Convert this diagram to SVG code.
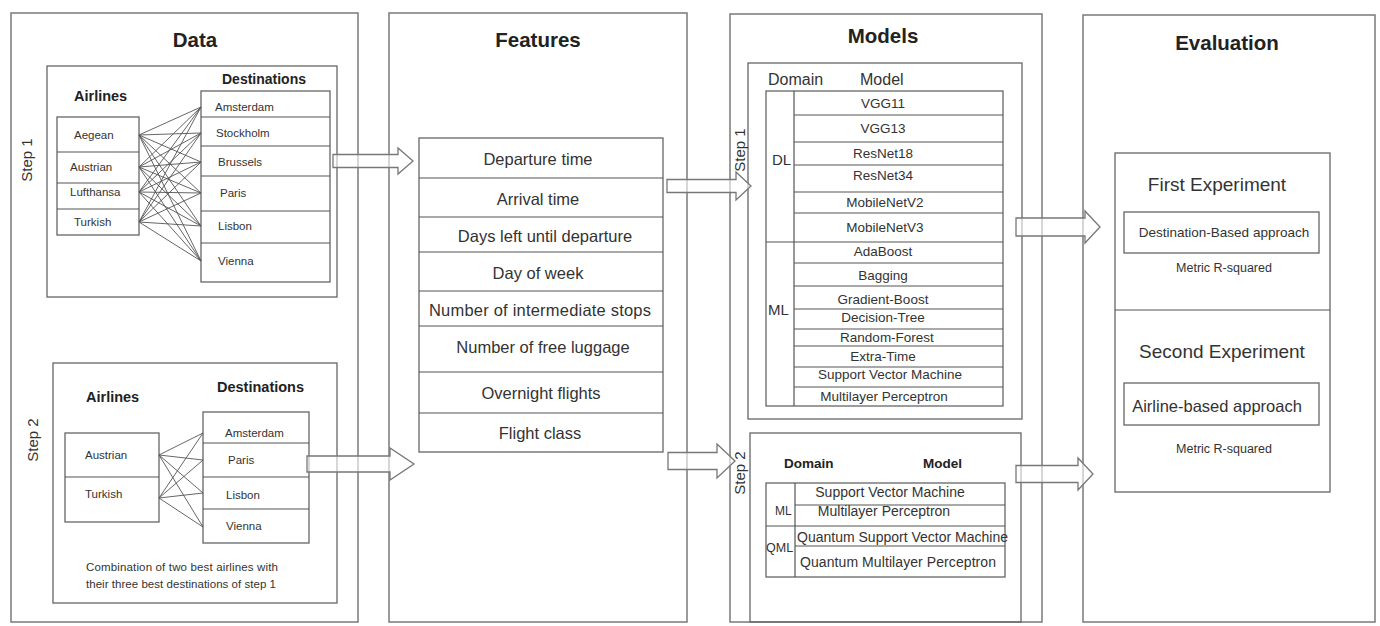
<svg xmlns="http://www.w3.org/2000/svg" width="1380" height="626" viewBox="0 0 1380 626">
<style>
text{font-family:"Liberation Sans",Arial,sans-serif;fill:#333}
.panel{fill:none;stroke:#7a7a7a;stroke-width:1.5}
.box{fill:none;stroke:#666;stroke-width:1.3}
.div{stroke:#555;stroke-width:1.2}
.title{font-size:20.5px;font-weight:bold;text-anchor:middle;fill:#222}
.hd{font-size:14.5px;font-weight:bold;fill:#222}
.sm{font-size:11.5px}
.feat{font-size:16.5px;text-anchor:middle}
.mod{font-size:13.5px;text-anchor:middle}
.step{font-size:15px;text-anchor:middle}
.edge{stroke:#555;stroke-width:0.9;fill:none}
.barrow{fill:#fff;fill-opacity:0.6;stroke:#777;stroke-width:1.3}
</style>
<rect width="1380" height="626" fill="#fff"/>

<!-- Panels -->
<g id="panel-data">
<rect class="panel" x="11" y="13" width="347" height="609"/>
<text class="title" x="195" y="47">Data</text>
</g>
<g id="panel-features">
<rect class="panel" x="389" y="13" width="298" height="609"/>
<text class="title" x="538" y="47">Features</text>
</g>
<g id="panel-models">
<rect class="panel" x="730" y="14" width="312" height="608"/>
<text class="title" x="883" y="43">Models</text>
</g>
<g id="panel-evaluation">
<rect class="panel" x="1083" y="15" width="292" height="607"/>
<text class="title" x="1227" y="50">Evaluation</text>
</g>

<!-- Data step 1 -->
<g id="data-step1">
<rect class="box" x="47" y="66" width="290" height="231"/>
<text class="step" transform="translate(32,160) rotate(-90)">Step 1</text>
<text class="hd" x="74" y="101">Airlines</text>
<text class="hd" x="222" y="84" style="font-size:14px">Destinations</text>
<rect class="box" x="57" y="117" width="82" height="118"/>
<line class="div" x1="57" y1="152" x2="139" y2="152"/>
<line class="div" x1="57" y1="183" x2="139" y2="183"/>
<line class="div" x1="57" y1="209" x2="139" y2="209"/>
<text class="sm" x="74" y="139">Aegean</text>
<text class="sm" x="70" y="171">Austrian</text>
<text class="sm" x="70" y="196">Lufthansa</text>
<text class="sm" x="74" y="226">Turkish</text>
<rect class="box" x="201" y="91" width="129" height="191"/>
<line class="div" x1="201" y1="117" x2="330" y2="117"/>
<line class="div" x1="201" y1="146" x2="330" y2="146"/>
<line class="div" x1="201" y1="176" x2="330" y2="176"/>
<line class="div" x1="201" y1="211" x2="330" y2="211"/>
<line class="div" x1="201" y1="243" x2="330" y2="243"/>
<text class="sm" x="215" y="111">Amsterdam</text>
<text class="sm" x="216" y="137">Stockholm</text>
<text class="sm" x="218" y="166">Brussels</text>
<text class="sm" x="220" y="197">Paris</text>
<text class="sm" x="218" y="230">Lisbon</text>
<text class="sm" x="218" y="265">Vienna</text>
</g>

<!-- Data step 2 -->
<g id="data-step2">
<rect class="box" x="53" y="363" width="284" height="240"/>
<text class="step" transform="translate(38,440) rotate(-90)">Step 2</text>
<text class="hd" x="86" y="402">Airlines</text>
<text class="hd" x="217" y="392">Destinations</text>
<rect class="box" x="65" y="433" width="94" height="89"/>
<line class="div" x1="65" y1="477" x2="159" y2="477"/>
<text class="sm" x="85" y="459">Austrian</text>
<text class="sm" x="85" y="498">Turkish</text>
<rect class="box" x="203" y="412" width="106" height="131"/>
<line class="div" x1="203" y1="443" x2="309" y2="443"/>
<line class="div" x1="203" y1="477" x2="309" y2="477"/>
<line class="div" x1="203" y1="509" x2="309" y2="509"/>
<text class="sm" x="225" y="437">Amsterdam</text>
<text class="sm" x="228" y="464">Paris</text>
<text class="sm" x="226" y="499">Lisbon</text>
<text class="sm" x="226" y="530">Vienna</text>
<text class="sm" x="86" y="571" textLength="192">Combination of two best airlines with</text>
<text class="sm" x="86" y="588" textLength="190">their three best destinations of step 1</text>
</g>

<!-- Features list -->
<g id="features">
<rect class="box" x="419" y="138" width="244" height="314"/>
<line class="div" x1="419" y1="178" x2="663" y2="178"/>
<line class="div" x1="419" y1="217" x2="663" y2="217"/>
<line class="div" x1="419" y1="252" x2="663" y2="252"/>
<line class="div" x1="419" y1="291" x2="663" y2="291"/>
<line class="div" x1="419" y1="326" x2="663" y2="326"/>
<line class="div" x1="419" y1="372" x2="663" y2="372"/>
<line class="div" x1="419" y1="413" x2="663" y2="413"/>
<text class="feat" x="538" y="165">Departure time</text>
<text class="feat" x="538" y="205">Arrival time</text>
<text class="feat" x="545" y="242">Days left until departure</text>
<text class="feat" x="538" y="279">Day of week</text>
<text class="feat" x="540" y="316" textLength="222">Number of intermediate stops</text>
<text class="feat" x="543" y="353">Number of free luggage</text>
<text class="feat" x="541" y="399">Overnight flights</text>
<text class="feat" x="540" y="439">Flight class</text>
</g>

<!-- Models step 1 -->
<g id="models-step1">
<rect class="box" x="748" y="63" width="274" height="356"/>
<text class="step" transform="translate(745,150) rotate(-90)">Step 1</text>
<text x="768" y="85" style="font-size:16px">Domain</text>
<text x="860" y="85" style="font-size:16px">Model</text>
<rect class="box" x="766" y="91" width="237" height="315"/>
<line class="div" x1="794" y1="91" x2="794" y2="406"/>
<line class="div" x1="794" y1="115" x2="1003" y2="115"/>
<line class="div" x1="794" y1="142" x2="1003" y2="142"/>
<line class="div" x1="794" y1="165" x2="1003" y2="165"/>
<line class="div" x1="794" y1="192" x2="1003" y2="192"/>
<line class="div" x1="794" y1="213" x2="1003" y2="213"/>
<line class="div" x1="766" y1="242" x2="1003" y2="242"/>
<line class="div" x1="794" y1="263" x2="1003" y2="263"/>
<line class="div" x1="794" y1="286" x2="1003" y2="286"/>
<line class="div" x1="794" y1="309" x2="1003" y2="309"/>
<line class="div" x1="794" y1="329" x2="1003" y2="329"/>
<line class="div" x1="794" y1="346" x2="1003" y2="346"/>
<line class="div" x1="794" y1="367" x2="1003" y2="367"/>
<line class="div" x1="794" y1="387" x2="1003" y2="387"/>
<text x="772" y="165" style="font-size:15px">DL</text>
<text x="768" y="315" style="font-size:15px">ML</text>
<text class="mod" x="883" y="108">VGG11</text>
<text class="mod" x="883" y="133">VGG13</text>
<text class="mod" x="883" y="158">ResNet18</text>
<text class="mod" x="883" y="180">ResNet34</text>
<text class="mod" x="885" y="207">MobileNetV2</text>
<text class="mod" x="885" y="232">MobileNetV3</text>
<text class="mod" x="883" y="256">AdaBoost</text>
<text class="mod" x="883" y="280">Bagging</text>
<text class="mod" x="883" y="304">Gradient-Boost</text>
<text class="mod" x="883" y="322">Decision-Tree</text>
<text class="mod" x="887" y="342">Random-Forest</text>
<text class="mod" x="883" y="361">Extra-Time</text>
<text class="mod" x="890" y="379">Support Vector Machine</text>
<text class="mod" x="884" y="401">Multilayer Perceptron</text>
</g>

<!-- Models step 2 -->
<g id="models-step2">
<rect class="box" x="750" y="433" width="271" height="189"/>
<text class="step" transform="translate(745,473) rotate(-90)">Step 2</text>
<text x="784" y="468" style="font-size:13.5px;font-weight:bold;fill:#222">Domain</text>
<text x="923" y="468" style="font-size:13.5px;font-weight:bold;fill:#222">Model</text>
<rect class="box" x="766" y="483" width="239" height="94"/>
<line class="div" x1="795" y1="483" x2="795" y2="577"/>
<line class="div" x1="795" y1="505" x2="1005" y2="505"/>
<line class="div" x1="766" y1="526" x2="1005" y2="526"/>
<line class="div" x1="795" y1="546" x2="1005" y2="546"/>
<text x="775" y="515" style="font-size:12px">ML</text>
<text x="766" y="552" style="font-size:12.5px">QML</text>
<text x="890" y="497" style="font-size:14px;text-anchor:middle">Support Vector Machine</text>
<text x="884" y="516" style="font-size:14px;text-anchor:middle">Multilayer Perceptron</text>
<text x="797" y="542" style="font-size:14px" textLength="211">Quantum Support Vector Machine</text>
<text x="800" y="567" style="font-size:14px" textLength="196">Quantum Multilayer Perceptron</text>
</g>

<!-- Evaluation -->
<g id="evaluation">
<rect class="box" x="1115" y="153" width="215" height="339"/>
<line class="div" x1="1115" y1="310" x2="1330" y2="310"/>
<text x="1217" y="191" style="font-size:19px;text-anchor:middle">First Experiment</text>
<rect class="box" x="1124" y="212" width="195" height="41"/>
<text x="1224" y="237" style="font-size:13.5px;text-anchor:middle">Destination-Based approach</text>
<text x="1224" y="272" style="font-size:12.5px;text-anchor:middle">Metric R-squared</text>
<text x="1222" y="358" style="font-size:19px;text-anchor:middle">Second Experiment</text>
<rect class="box" x="1124" y="383" width="195" height="42"/>
<text x="1217" y="412" style="font-size:16.5px;text-anchor:middle">Airline-based approach</text>
<text x="1224" y="453" style="font-size:12.5px;text-anchor:middle">Metric R-squared</text>
</g>

<!-- Connectors -->
<g id="connectors">
<g id="step1-links">
<path class="edge" d="M139 135L201 107M139 135L201 133M139 135L201 162M139 135L201 193M139 135L201 226M139 135L201 261"/>
<path class="edge" d="M139 167L201 107M139 167L201 133M139 167L201 162M139 167L201 193M139 167L201 226M139 167L201 261"/>
<path class="edge" d="M139 192L201 107M139 192L201 133M139 192L201 162M139 192L201 193M139 192L201 226M139 192L201 261"/>
<path class="edge" d="M139 222L201 107M139 222L201 133M139 222L201 162M139 222L201 193M139 222L201 226M139 222L201 261"/>
</g>
<g id="step2-links">
<path class="edge" d="M159 455L203 433M159 455L203 460M159 455L203 493M159 455L203 527"/>
<path class="edge" d="M159 498L203 433M159 498L203 460M159 498L203 493M159 498L203 527"/>
</g>
<path class="barrow" d="M333 154.5H398V148L413 161L398 174V167.5H333Z"/>
<path class="barrow" d="M307 456H390V448L414 464L390 480V472H307Z"/>
<path class="barrow" d="M667 179.5H736V172L751 186L736 200V192.5H667Z"/>
<path class="barrow" d="M668 452.5H717V444L735 461L717 478V469.5H668Z"/>
<path class="barrow" d="M1016 218H1085V211L1100 227L1085 243V236H1016Z"/>
<path class="barrow" d="M1016 465.5H1078V458L1093 474L1078 490V482.5H1016Z"/>
</g>
</svg>
